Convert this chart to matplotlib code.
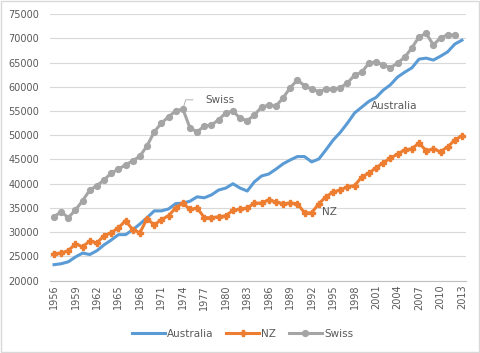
import matplotlib.pyplot as plt
from matplotlib.patches import Rectangle
import numpy as np

years = list(range(1956, 2014))

australia = [23300, 23500, 23900, 24900, 25700, 25400, 26200, 27400, 28400, 29500,
             29500, 30500, 31700, 33000, 34400, 34400, 34800, 35900, 36000, 36400,
             37300, 37100, 37700, 38700, 39100, 40000, 39100, 38500, 40400, 41600,
             42000, 43000, 44100, 44900, 45600, 45600, 44500, 45100, 47000, 49000,
             50600, 52500, 54600, 55800, 57000, 57800, 59300, 60400, 62000, 63000,
             63900, 65700, 65900, 65500, 66300, 67200, 68800, 69600]
nz = [25600, 25700, 26200, 27600, 27000, 28200, 27800, 29300, 29900, 30900,
      32400, 30500, 29900, 32800, 31500, 32600, 33400, 35000, 36000, 34700,
      35000, 33000, 33000, 33200, 33400, 34500, 34800, 35000, 36000, 36000,
      36700, 36200, 35900, 36000, 35900, 34000, 34000, 35900, 37300, 38300,
      38700, 39400, 39600, 41400, 42200, 43300, 44300, 45300, 46100, 47000,
      47200, 48400, 46800, 47200, 46600, 47600, 49000, 49900]
swiss = [33200, 34200, 33000, 34600, 36500, 38700, 39600, 40800, 42200, 43000,
         43900, 44700, 45700, 47800, 50700, 52500, 53800, 55000, 55400, 51500,
         50700, 51900, 52100, 53200, 54600, 55000, 53500, 53000, 54200, 55800,
         56200, 56000, 57700, 59800, 61400, 60200, 59500, 59000, 59500, 59500,
         59800, 60800, 62400, 63000, 64900, 65100, 64500, 63900, 64900, 66100,
         68000, 70300, 71000, 68600, 70100, 70700, 70700, np.nan]

blue = '#5B9BD5'
orange = '#ED7D31'
grey = '#A5A5A5'
txt = '#595959'

fig = plt.figure(figsize=(4.8, 3.53), dpi=100)
ax = fig.add_axes([0.1042, 0.2048, 0.8666, 0.7555])

ax.plot(years, australia, color=blue, lw=2.2, label='Australia')
ax.plot(years, nz, color=orange, lw=2.2, marker='P', ms=3.8, label='NZ')
ax.plot(years, swiss, color=grey, lw=2.2, marker='o', ms=4.2, label='Swiss')

ax.set_xlim(1956 - 0.56, 2013 + 0.56)
ax.set_ylim(20000, 75000)
ax.set_yticks(range(20000, 75001, 5000))
ax.set_xticks(years[::3])
ax.set_xticklabels([str(y) for y in years[::3]], rotation=90)
ax.tick_params(length=0, labelsize=7, colors=txt)
ax.tick_params(axis='x', pad=3)
ax.tick_params(axis='y', pad=8)
ax.grid(axis='y', color='#d9d9d9', lw=0.8)
ax.set_axisbelow(True)
for s in ['top', 'right', 'left']:
    ax.spines[s].set_visible(False)
ax.spines['bottom'].set_color('#bfbfbf')

# data labels
ax.plot([1974, 1974.4, 1975.4], [55400, 57300, 57300], color=grey, lw=0.6)
ax.text(1977.1, 57300, 'Swiss', fontsize=7.5, color=txt, va='center')
ax.text(2000.3, 56050, 'Australia', fontsize=7.5, color=txt, va='center')
ax.text(1993.5, 34070, 'NZ', fontsize=7.5, color=txt, va='center')

fig.legend(loc='center', bbox_to_anchor=(0.505, 0.055), ncol=3, frameon=False,
           fontsize=7.5, labelcolor=txt, handlelength=3.2, columnspacing=1.2,
           handletextpad=0.2)

fig.patches.append(Rectangle((0.002, 0.003), 0.996, 0.994, transform=fig.transFigure,
                             fill=False, edgecolor='#d9d9d9', lw=1))

fig.savefig('out.png', dpi=100)
